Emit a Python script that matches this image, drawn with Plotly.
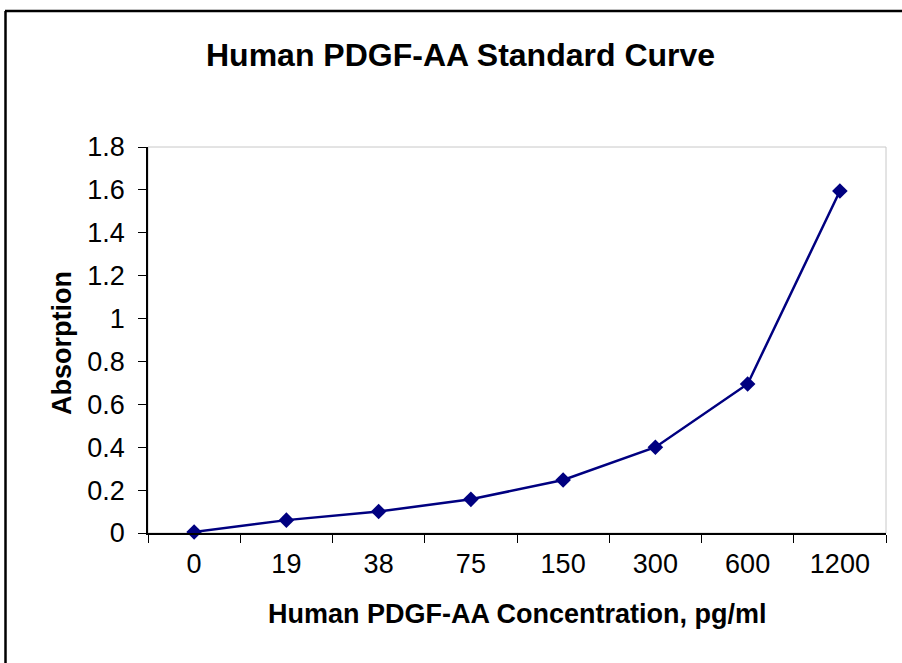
import plotly.graph_objects as go

categories = ["0", "19", "38", "75", "150", "300", "600", "1200"]
absorption = [0.005, 0.06, 0.1, 0.157, 0.247, 0.40, 0.695, 1.595]
y_ticks = [0, 0.2, 0.4, 0.6, 0.8, 1, 1.2, 1.4, 1.6, 1.8]
y_tick_text = ["0", "0.2", "0.4", "0.6", "0.8", "1", "1.2", "1.4", "1.6", "1.8"]

OFF = 0  # page body margin removed via post_script
W, H = 902 - OFF, 663 - OFF
# target pixel positions in the screenshot
PL, PR, PT, PB = 148, 886, 147, 533
L, T = PL - OFF, PT - OFF
R, B = W - (PR - OFF), H - (PB - OFF)
pw, ph = W - L - R, H - T - B

def px(x):
    return (x - OFF - L) / pw

def py(y):
    return 1 - (y - OFF - T) / ph

FONT = "Liberation Sans, Arial, sans-serif"

fig = go.Figure()
fig.add_trace(go.Scatter(
    x=categories, y=absorption, mode="lines+markers",
    line=dict(color="#000080", width=2.5),
    marker=dict(symbol="diamond", size=12, color="#000080"),
    cliponaxis=False, showlegend=False,
))

fig.update_layout(
    width=W, height=H,
    margin=dict(l=L, r=R, t=T, b=B, autoexpand=False),
    paper_bgcolor="white", plot_bgcolor="white",
    font=dict(family=FONT, color="black", size=27),
    xaxis=dict(
        type="category", range=[-0.5, 7.5], tickson="boundaries",
        ticks="outside", ticklen=8, tickcolor="black", tickwidth=1,
        showline=True, linecolor="black", linewidth=1.5,
        showgrid=False, zeroline=False,
        tickfont=dict(size=27, family=FONT), ticklabelstandoff=6,
    ),
    yaxis=dict(
        range=[0, 1.8], tickvals=y_ticks, ticktext=y_tick_text,
        ticks="outside", ticklen=8, tickcolor="black", tickwidth=1,
        showline=True, linecolor="black", linewidth=1.5,
        showgrid=False, zeroline=False,
        tickfont=dict(size=27, family=FONT), ticklabelstandoff=8,
    ),
    shapes=[
        dict(type="rect", xref="paper", yref="paper", x0=0, x1=1, y0=0, y1=1,
             line=dict(color="#c8c8c8", width=1), layer="below"),
        dict(type="line", xref="paper", yref="paper",
             x0=px(5.5), x1=px(5.5), y0=py(11), y1=py(H + 40),
             line=dict(color="black", width=2.5)),
        dict(type="line", xref="paper", yref="paper",
             x0=px(5), x1=px(W + 40), y0=py(11), y1=py(11),
             line=dict(color="black", width=2.5)),
    ],
    annotations=[
        dict(text="<b>Human PDGF-AA Standard Curve</b>", xref="paper", yref="paper",
             x=px(460), y=py(55), xanchor="center", yanchor="middle",
             showarrow=False, font=dict(size=32, family=FONT)),
        dict(text="<b>Human PDGF-AA Concentration, pg/ml</b>", xref="paper", yref="paper",
             x=px(517), y=py(614), xanchor="center", yanchor="middle",
             showarrow=False, font=dict(size=27, family=FONT)),
        dict(text="<b>Absorption</b>", xref="paper", yref="paper",
             x=px(62), y=py(343), xanchor="center", yanchor="middle",
             textangle=-90, showarrow=False, font=dict(size=27, family=FONT)),
    ],
)

fig.write_html("out.html",
               config={"displayModeBar": False},
               post_script="document.body.style.margin='0';document.body.style.overflow='hidden';")
